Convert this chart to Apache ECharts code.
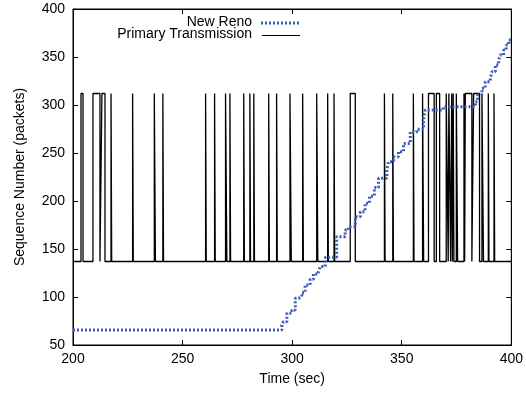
<!DOCTYPE html>
<html>
<head>
<meta charset="utf-8">
<script src="https://cdn.jsdelivr.net/npm/echarts@6/dist/echarts.min.js"></script>
<style>html,body{margin:0;padding:0;background:#fff}#c{width:526px;height:394px}</style>
</head>
<body>
<div id="c"></div>
<script>
// ---- data ----
const xTicks = [200, 250, 300, 350, 400];
const yTicks = [50, 100, 150, 200, 250, 300, 350, 400];

// New Reno sequence staircase: time of each step, value after the step
const nrTime = [200, 295.3, 296.0, 297.6, 299.9, 301.4, 302.9, 304.4, 305.9, 308.2, 309.7, 312.0, 312.8, 315.1,
  320.3, 324.2, 325.7, 328.8, 331.1, 333.3, 335.3, 337.5, 339.4, 343.2, 344.0, 346.3, 348.5, 350.8, 353.9, 356.9,
  360.0, 360.7, 369.0, 383.6, 384.6, 386.6, 388.1, 390.4, 391.2, 392.7, 394.2, 395.0, 396.5, 397.7, 398.8, 400];
const nrSeq = [65.5, 70.8, 74.3, 83, 86.5, 98.6, 100.3, 104.5, 112.5, 118.4, 124, 126.4, 131.8, 141.4,
  162.8, 169.8, 173.2, 183.6, 188.9, 197.6, 205, 214, 223.6, 232.3, 241, 246, 251.4, 260, 272, 274.7,
  286, 294.8, 298.2, 303.4, 310.4, 317.4, 324.3, 327.8, 334.7, 341.7, 346.9, 352, 357.3, 362.5, 367.7, 367.7];

// Primary transmission: square wave between two levels, pulses [up, down]
const ptLow = 137;
const ptHigh = 312;
const ptUp   = [203.65, 209.1, 213.2, 217.35, 227.2, 237.1, 241.0, 260.5, 264.6, 269.6, 271.6, 277.9, 280.7, 282.5,
  289.3, 292.9, 299.0, 304.8, 311.2, 316.2, 319.1, 326.5, 342.1, 345.9, 355.3, 359.5, 362.2, 365.8,
  370.3, 371.5, 372.8, 373.5, 374.9, 378.4, 379.0, 382.8, 386.6, 389.5, 392.1];
const ptDown = [204.57, 212.3, 214.6, 217.65, 227.5, 237.6, 241.3, 260.8, 264.9, 270.2, 271.9, 278.2, 281.0, 282.8,
  289.6, 293.2, 299.6, 305.1, 311.7, 316.5, 319.4, 328.8, 342.4, 346.2, 355.6, 360.0, 364.8, 367.3,
  371.2, 372.3, 373.1, 373.8, 375.5, 378.7, 382.0, 385.5, 387.3, 389.8, 392.4];

// ---- build series data ----
const nrData = nrTime.map((t, i) => [t, nrSeq[i]]);
const ptData = [[200, ptLow]];
ptUp.forEach((u, i) => {
  ptData.push([u, ptLow], [u, ptHigh], [ptDown[i], ptHigh], [ptDown[i], ptLow]);
});
ptData.push([400, ptLow]);

const FONT = 'Liberation Sans, Arial, Helvetica, sans-serif';
const chart = echarts.init(document.getElementById('c'), null, {renderer: 'canvas'});
const axisCommon = {
  axisTick: {inside: true, length: 5, lineStyle: {color: '#000', width: 1}},
  splitLine: {show: false},
  axisLine: {show: true, lineStyle: {color: '#000', width: 1}}
};
chart.setOption({
  animation: false,
  backgroundColor: '#fff',
  grid: {left: 73, right: 14, top: 9, bottom: 49, show: true, borderColor: '#000', borderWidth: 1},
  xAxis: [
    Object.assign({}, axisCommon, {
      type: 'value', min: 200, max: 400, interval: 50, position: 'bottom',
      name: 'Time (sec)', nameLocation: 'middle', nameGap: 27,
      nameTextStyle: {fontFamily: FONT, fontSize: 14, color: '#000'},
      axisLabel: {fontFamily: FONT, fontSize: 14, color: '#000', margin: 7,
        formatter: v => xTicks.includes(v) ? String(v) : ''}
    }),
    Object.assign({}, axisCommon, {
      type: 'value', min: 200, max: 400, interval: 50, position: 'top',
      axisLabel: {show: false}
    })
  ],
  yAxis: [
    Object.assign({}, axisCommon, {
      type: 'value', min: 50, max: 400, interval: 50, position: 'left',
      name: 'Sequence Number (packets)', nameLocation: 'middle', nameGap: 46,
      nameTextStyle: {fontFamily: FONT, fontSize: 14, color: '#000'},
      axisLabel: {fontFamily: FONT, fontSize: 14, color: '#000', margin: 8,
        formatter: v => yTicks.includes(v) ? String(v) : ''}
    }),
    Object.assign({}, axisCommon, {
      type: 'value', min: 50, max: 400, interval: 50, position: 'right',
      axisLabel: {show: false}
    })
  ],
  series: [
    {
      name: 'Primary Transmission', type: 'line', data: ptData, showSymbol: false, symbol: 'none',
      lineStyle: {color: '#000', width: 1.3}, z: 2, clip: true
    },
    {
      name: 'New Reno', type: 'line', data: nrData, step: 'end', showSymbol: false, symbol: 'none',
      lineStyle: {color: '#3a5cb8', width: 3, type: [2, 2]}, z: 3, clip: true
    }
  ],
  graphic: [
    {type: 'text', right: 526 - 252, top: 15, style: {text: 'New Reno', fontFamily: FONT, fontSize: 14, fill: '#000', textAlign: 'right'}},
    {type: 'line', shape: {x1: 261, y1: 23, x2: 299, y2: 23}, style: {stroke: '#3a5cb8', lineWidth: 3, lineDash: [2, 2]}},
    {type: 'text', right: 526 - 252, top: 27.5, style: {text: 'Primary Transmission', fontFamily: FONT, fontSize: 14, fill: '#000', textAlign: 'right'}},
    {type: 'line', shape: {x1: 262, y1: 35.5, x2: 300, y2: 35.5}, style: {stroke: '#000', lineWidth: 1}}
  ]
});
</script>
</body>
</html>
